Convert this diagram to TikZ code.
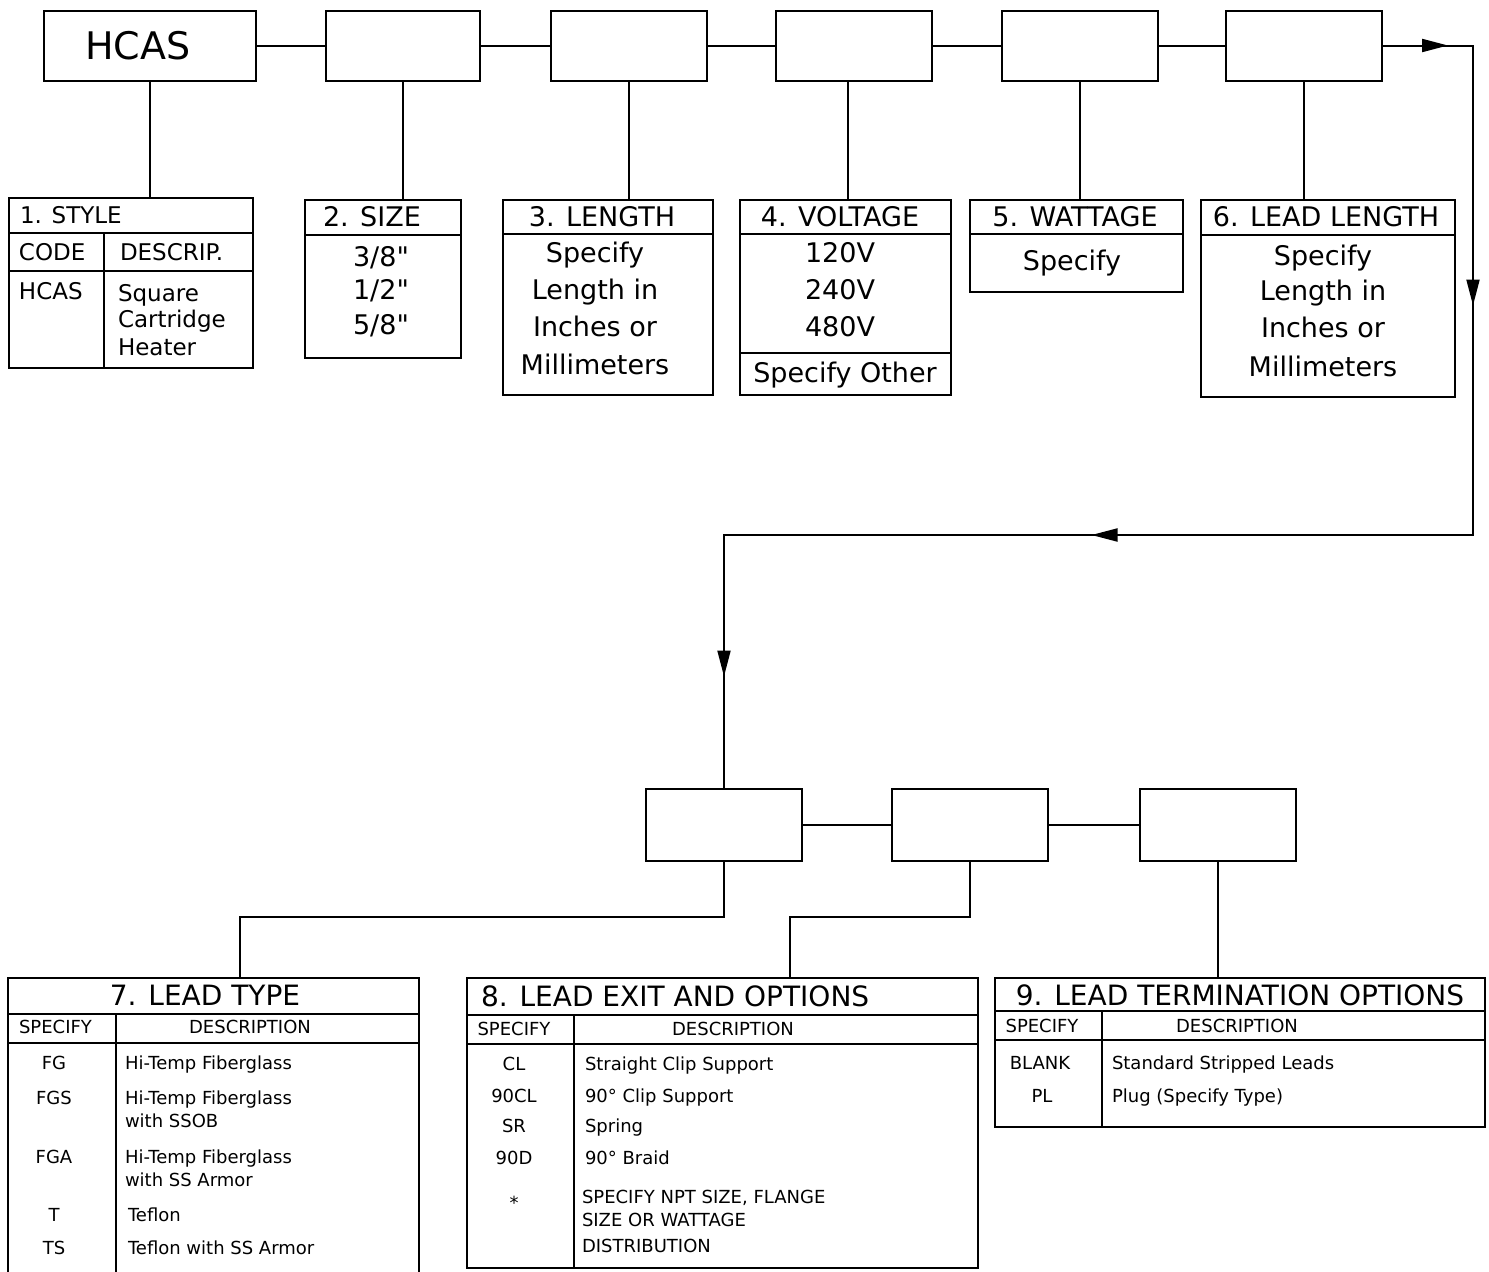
\documentclass[tikz,border=0pt]{standalone}
\usepackage{fontspec}
\setmainfont{DejaVu Sans}
\newfontfamily\plainquote{DejaVu Sans}
\usetikzlibrary{arrows.meta,calc,decorations.markings}

\begin{document}
\begin{tikzpicture}[x=1pt,y=-1pt,line width=2pt,
  selbox/.style={draw,minimum width=156pt,minimum height=70pt,inner sep=0pt},
  tabframe/.style={draw,anchor=north west,inner sep=0pt},
  txt/.style={inner sep=0pt,text depth=0pt},
  fbig/.style={txt,font=\fontsize{38}{40}\selectfont,text height=27.7pt},
  fhead/.style={txt,font=\fontsize{28}{30}\selectfont,text height=20.4pt},
  ftitle/.style={txt,font=\fontsize{27}{30}\selectfont,text height=19.7pt},
  fmed/.style={txt,font=\fontsize{23}{26}\selectfont,text height=16.8pt},
  fsmall/.style={txt,font=\fontsize{18}{21}\selectfont,text height=13.1pt},
  flowtip/.style={decoration={markings,
      mark=at position 65pt with {\arrow{Triangle[length=26pt,width=13pt]}},
      mark=at position 350pt with {\arrow{Triangle[length=26pt,width=13pt]}},
      mark=at position 961pt with {\arrow{Triangle[length=26pt,width=13pt]}},
      mark=at position 1470pt with {\arrow{Triangle[length=26pt,width=13pt]}}},
    postaction={decorate}}]
\useasboundingbox (0,0) rectangle (1489,1272);
\clip (0,0) rectangle (1489,1272);
\fill[white] (0,0) rectangle (1489,1272);

% top row of code boxes
\node[selbox,minimum width=212pt] (b1) at (150,45.5) {};
\node[selbox,minimum width=154pt] (b2) at (403,45.5) {};
\node[selbox] (b3) at (628.5,45.5) {};
\node[selbox] (b4) at (853.5,45.5) {};
\node[selbox] (b5) at (1079.5,45.5) {};
\node[selbox] (b6) at (1304,45.5) {};
\node[fbig,anchor=west] (hcas) at (84,45.5) {HCAS};
\foreach \a/\b in {b1/b2,b2/b3,b3/b4,b4/b5,b5/b6} \draw (\a.east) -- (\b.west);

% second row of code boxes
\node[selbox,minimum height=72pt] (bA) at (724,825) {};
\node[selbox,minimum height=72pt] (bB) at (970,825) {};
\node[selbox,minimum height=72pt] (bC) at (1217.5,825) {};
\foreach \a/\b in {bA/bB,bB/bC} \draw (\a.east) -- (\b.west);

% return path with arrows
\coordinate (r1) at (1473,45.5);
\coordinate (r2) at (1473,535);
\coordinate (r3) at (724,535);
\draw[flowtip] (b6.east) -- (r1) -- (r2) -- (r3) -- (bA.north);

% 1. style
\node[tabframe,minimum width=244pt,minimum height=170pt] (t1) at (8,197) {};
\draw ($(t1.north west)+(0,36)$) -- ($(t1.north east)+(0,36)$);
\draw ($(t1.north west)+(0,74)$) -- ($(t1.north east)+(0,74)$);
\draw ($(t1.north west)+(96,36)$) -- ($(t1.south west)+(96,0)$);
\node[fmed,anchor=west] (t1h) at (19,215) {1. STYLE};
\node[fmed,anchor=west] (t1c) at (18,252) {CODE};
\node[fmed,anchor=west] (t1d) at (119,252) {DESCRIP.};
\node[fmed,anchor=west] (t1v) at (18,291) {HCAS};
\foreach \y/\s [count=\i] in {293/Square,319/Cartridge,347/Heater}
  \node[fmed,anchor=west] (t1r\i) at (117,\y) {\s};

% 2. size
\node[tabframe,minimum width=156pt,minimum height=158pt] (t2) at (304,199) {};
\draw ($(t2.north west)+(0,36)$) -- ($(t2.north east)+(0,36)$);
\node[ftitle,anchor=west] (t2h) at (322,217) {2. SIZE};
\foreach \y/\s [count=\i] in {257/{3/8"},290/{1/2"},325/{5/8"}}
  \node[ftitle] (t2r\i) at (381,\y) {\plainquote\s};

% 3. length
\node[tabframe,minimum width=210pt,minimum height=195pt] (t3) at (502,199) {};
\draw ($(t3.north west)+(0,35)$) -- ($(t3.north east)+(0,35)$);
\node[ftitle] (t3h) at (602,217) {3. LENGTH};
\foreach \y/\s [count=\i] in {253/Specify,290/Length in,327/Inches or,365/Millimeters}
  \node[ftitle] (t3r\i) at (595,\y) {\s};

% 4. voltage
\node[tabframe,minimum width=211pt,minimum height=195pt] (t4) at (739,199) {};
\draw ($(t4.north west)+(0,35)$) -- ($(t4.north east)+(0,35)$);
\draw ($(t4.north west)+(0,154)$) -- ($(t4.north east)+(0,154)$);
\node[ftitle] (t4h) at (840,217) {4. VOLTAGE};
\foreach \y/\s [count=\i] in {253/120V,290/240V,327/480V}
  \node[ftitle] (t4r\i) at (840,\y) {\s};
\node[ftitle] (t4o) at (845,373) {Specify Other};

% 5. wattage
\node[tabframe,minimum width=213pt,minimum height=92pt] (t5) at (969,199) {};
\draw ($(t5.north west)+(0,35)$) -- ($(t5.north east)+(0,35)$);
\node[ftitle] (t5h) at (1075,217) {5. WATTAGE};
\node[ftitle] (t5r) at (1072,261) {Specify};

% 6. lead length
\node[tabframe,minimum width=254pt,minimum height=197pt] (t6) at (1200,199) {};
\draw ($(t6.north west)+(0,36)$) -- ($(t6.north east)+(0,36)$);
\node[ftitle] (t6h) at (1326,217) {6. LEAD LENGTH};
\foreach \y/\s [count=\i] in {256/Specify,291/Length in,328/Inches or,367/Millimeters}
  \node[ftitle] (t6r\i) at (1323,\y) {\s};

\foreach \b/\t in {b1/t1,b2/t2,b3/t3,b5/t5,b6/t6}
  \draw (\b.south) -- (\b.south |- \t.north);
\coordinate (b4d) at ($(b4.south)+(-6,0)$);
\draw (b4d) -- (b4d |- t4.north);

% 7. lead type (open at the bottom)
\node[tabframe,minimum width=411pt,minimum height=310pt] (t7) at (7,977) {};
\draw ($(t7.north west)+(0,37)$) -- ($(t7.north east)+(0,37)$);
\draw ($(t7.north west)+(0,66)$) -- ($(t7.north east)+(0,66)$);
\draw ($(t7.north west)+(109,37)$) -- ($(t7.south west)+(109,0)$);
\node[fhead] (t7h) at (205,995) {7. LEAD TYPE};
\node[fsmall] (t7s) at (55.5,1027) {SPECIFY};
\node[fsmall] (t7d) at (250,1027) {DESCRIPTION};
\foreach \y/\s [count=\i] in {1063/FG,1098/FGS,1157/FGA,1215/T,1248/TS}
  \node[fsmall] (t7c\i) at (54,\y) {\s};
\foreach \x/\y/\s [count=\i] in {124/1063/Hi-Temp Fiberglass,124/1098/Hi-Temp Fiberglass,
    124/1121/with SSOB,124/1157/Hi-Temp Fiberglass,124/1180/with SS Armor,
    127/1215/Teflon,127/1248/Teflon with SS Armor}
  \node[fsmall,anchor=west] (t7r\i) at (\x,\y) {\s};

% 8. lead exit and options
\node[tabframe,minimum width=511pt,minimum height=290pt] (t8) at (466,977) {};
\draw ($(t8.north west)+(0,38)$) -- ($(t8.north east)+(0,38)$);
\draw ($(t8.north west)+(0,67)$) -- ($(t8.north east)+(0,67)$);
\draw ($(t8.north west)+(108,38)$) -- ($(t8.south west)+(108,0)$);
\node[fhead,anchor=west] (t8h) at (480,996) {8. LEAD EXIT AND OPTIONS};
\node[fsmall] (t8s) at (514,1029) {SPECIFY};
\node[fsmall] (t8d) at (733,1029) {DESCRIPTION};
\foreach \y/\s [count=\i] in {1064/CL,1096/90CL,1126/SR,1158/90D,1203/*}
  \node[fsmall] (t8c\i) at (514,\y) {\s};
\foreach \y/\s [count=\i] in {1064/Straight Clip Support,1096/90° Clip Support,
    1126/Spring,1158/90° Braid}
  \node[fsmall,anchor=west] (t8r\i) at (584,\y) {\s};
\node[fsmall,anchor=west] (t8n1) at (581,1197) {SPECIFY NPT SIZE, FLANGE};
\node[fsmall,anchor=west] (t8n2) at (581,1220) {SIZE OR WATTAGE};
\node[fsmall,anchor=west] (t8n3) at (581,1246) {DISTRIBUTION};

% 9. lead termination options
\node[tabframe,minimum width=490pt,minimum height=149pt] (t9) at (994,977) {};
\draw ($(t9.north west)+(0,34)$) -- ($(t9.north east)+(0,34)$);
\draw ($(t9.north west)+(0,63)$) -- ($(t9.north east)+(0,63)$);
\draw ($(t9.north west)+(108,34)$) -- ($(t9.south west)+(108,0)$);
\node[fhead] (t9h) at (1240,995) {9. LEAD TERMINATION OPTIONS};
\node[fsmall] (t9s) at (1042,1026) {SPECIFY};
\node[fsmall] (t9d) at (1237,1026) {DESCRIPTION};
\node[fsmall] (t9c1) at (1040,1063) {BLANK};
\node[fsmall] (t9c2) at (1042,1096) {PL};
\node[fsmall,anchor=west] (t9r1) at (1111,1063) {Standard Stripped Leads};
\node[fsmall,anchor=west] (t9r2) at (1111,1096) {Plug (Specify Type)};

% lower connectors
\coordinate (k7) at (240,917);
\coordinate (k8) at (790,917);
\draw (bA.south) |- (k7) -- (k7 |- t7.north);
\draw (bB.south) |- (k8) -- (k8 |- t8.north);
\draw (bC.south) -- (bC.south |- t9.north);
\end{tikzpicture}
\end{document}
